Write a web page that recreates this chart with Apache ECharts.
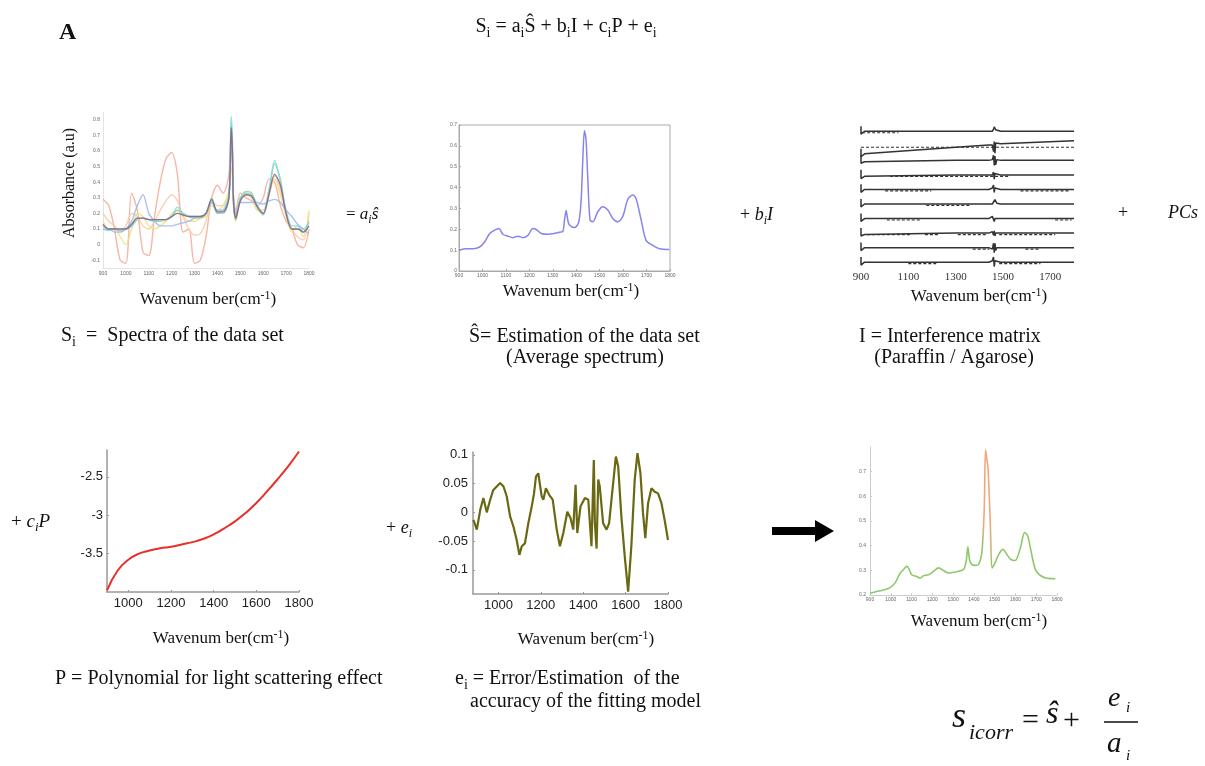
<!DOCTYPE html>
<html>
<head>
<meta charset="utf-8">
<script src="https://cdn.jsdelivr.net/npm/echarts@6/dist/echarts.min.js"></script>
<style>
  html, body { margin: 0; padding: 0; background: #fff; }
  #chart { width: 1205px; height: 766px; }
</style>
</head>
<body>
<div id="chart"></div>
<script>
// ============================================
// Data
// ============================================

// Panel 1: raw spectra of the data set
const P1_WN = [900, 925, 950, 975, 1000, 1025, 1050, 1075, 1100, 1125, 1150, 1175, 1200, 1225, 1250, 1275, 1300, 1325, 1350, 1375,
               1400, 1425, 1450, 1460, 1465, 1470, 1480, 1500, 1525, 1550, 1575, 1600, 1625, 1650, 1675, 1700, 1725, 1750, 1775, 1800];
const P1_SALMON = [0.29, 0.25, 0.1, -0.1, -0.12, 0.33, 0.22, -0.05, -0.07, 0.18, 0.4, 0.55, 0.59, 0.45, 0.08, 0.1, -0.12, -0.1, 0.05, 0.3,
                   0.38, 0.33, 0.45, 0.72, 0.6, 0.3, 0.22, 0.33, 0.3, 0.28, 0.25, 0.3, 0.42, 0.4, 0.25, 0.15, 0.1, 0.0, -0.02, 0.1];
const P1_PEACH = [0.2, 0.15, 0.12, 0.08, 0.12, 0.2, 0.18, 0.12, 0.1, 0.15, 0.22, 0.28, 0.32, 0.28, 0.18, 0.1, 0.06, 0.07, 0.15, 0.28,
                  0.25, 0.25, 0.32, 0.6, 0.55, 0.3, 0.18, 0.3, 0.32, 0.3, 0.22, 0.22, 0.35, 0.44, 0.35, 0.2, 0.1, 0.05, 0.03, 0.2];
const P1_YELLOW = [0.15, 0.1, 0.1, 0.05, 0.0, 0.1, 0.2, 0.18, 0.12, 0.1, 0.12, 0.15, 0.2, 0.22, 0.18, 0.15, 0.15, 0.17, 0.18, 0.25,
                   0.22, 0.25, 0.35, 0.5, 0.45, 0.25, 0.15, 0.28, 0.33, 0.3, 0.22, 0.2, 0.32, 0.42, 0.32, 0.18, 0.08, 0.12, 0.05, 0.22];
const P1_BLUE = [0.1, 0.1, 0.08, 0.08, 0.1, 0.15, 0.25, 0.32, 0.2, 0.15, 0.12, 0.12, 0.12, 0.13, 0.14, 0.15, 0.17, 0.18, 0.2, 0.27,
                 0.22, 0.22, 0.3, 0.7, 0.6, 0.3, 0.2, 0.27, 0.27, 0.27, 0.27, 0.26, 0.28, 0.29, 0.27, 0.22, 0.18, 0.13, 0.1, 0.07];
const P1_GREEN = [0.12, 0.1, 0.1, 0.09, 0.1, 0.12, 0.16, 0.17, 0.16, 0.15, 0.15, 0.16, 0.18, 0.22, 0.2, 0.18, 0.17, 0.17, 0.2, 0.3,
                  0.2, 0.2, 0.3, 0.78, 0.65, 0.28, 0.16, 0.29, 0.34, 0.33, 0.24, 0.19, 0.33, 0.52, 0.42, 0.2, 0.1, 0.1, 0.1, 0.14];
const P1_CYAN = [0.1, 0.09, 0.1, 0.1, 0.1, 0.12, 0.17, 0.17, 0.16, 0.15, 0.16, 0.16, 0.18, 0.24, 0.2, 0.18, 0.18, 0.18, 0.2, 0.28,
                 0.2, 0.22, 0.32, 0.82, 0.7, 0.3, 0.18, 0.3, 0.33, 0.32, 0.25, 0.2, 0.35, 0.54, 0.4, 0.22, 0.12, 0.12, 0.08, 0.15];
const P1_DARK = [0.13, 0.1, 0.1, 0.1, 0.1, 0.13, 0.17, 0.17, 0.16, 0.16, 0.16, 0.16, 0.18, 0.2, 0.19, 0.18, 0.18, 0.18, 0.2, 0.29,
                 0.21, 0.21, 0.3, 0.75, 0.62, 0.28, 0.17, 0.28, 0.32, 0.31, 0.24, 0.2, 0.32, 0.45, 0.38, 0.2, 0.1, 0.1, 0.08, 0.12];
const P1_YTICKS = [-0.1, 0, 0.1, 0.2, 0.3, 0.4, 0.5, 0.6, 0.7, 0.8];
const P1_XTICKS = [900, 1000, 1100, 1200, 1300, 1400, 1500, 1600, 1700, 1800];

// Panel 2: average spectrum
const P2_WN = [900, 931, 960, 988, 1009, 1031, 1052, 1070, 1087, 1109, 1130, 1151, 1173, 1194, 1215, 1229, 1251, 1279, 1307, 1329,
               1343, 1350, 1357, 1364, 1371, 1393, 1411, 1421, 1428, 1435, 1442, 1449, 1459, 1471, 1492, 1513, 1535, 1556, 1577, 1598,
               1620, 1641, 1655, 1677, 1698, 1726, 1755, 1797];
const P2_ABS = [0.1, 0.107, 0.107, 0.115, 0.139, 0.18, 0.196, 0.204, 0.176, 0.167, 0.16, 0.167, 0.16, 0.171, 0.204, 0.199, 0.18, 0.176, 0.18, 0.186,
                0.19, 0.244, 0.29, 0.244, 0.22, 0.208, 0.236, 0.34, 0.532, 0.673, 0.628, 0.452, 0.244, 0.236, 0.284, 0.308, 0.292, 0.252, 0.236, 0.26,
                0.343, 0.364, 0.348, 0.244, 0.147, 0.123, 0.107, 0.103];
const P2_YTICKS = [0, 0.1, 0.2, 0.3, 0.4, 0.5, 0.6, 0.7];

// Panel 3: interference matrix (10 stacked traces)
const P3_WN = [900, 900, 915, 1300, 1440, 1455, 1460, 1463, 1466, 1469, 1474, 1490, 1800];
const P3_TRACES = [
    [0.35, -0.2, 0, 0, 0, 0, 0.15, 0.3, 0.25, 0.1, 0, 0, 0],
    [-0.2, -0.75, -0.55, -0.1, 0.05, 0.05, -0.4, 0.3, -0.5, 0.2, 0.12, 0.15, 0.35],
    [0.35, -0.2, -0.1, 0, 0, 0.05, 0.35, -0.35, 0.3, -0.3, 0.05, 0, 0],
    [0.35, -0.25, -0.1, 0, 0, 0, 0.2, -0.3, 0.1, 0, 0, 0, 0],
    [0.35, -0.2, 0, 0, 0, 0.1, 0.3, -0.2, 0.1, 0, 0, 0, 0],
    [0.35, -0.2, 0, 0, 0, 0, 0.05, 0.1, 0.3, 0.25, 0.05, 0, 0],
    [0.35, -0.2, 0, 0, 0, 0.15, 0.25, -0.2, 0, -0.1, 0, 0, 0],
    [0.35, -0.2, -0.1, 0, 0, 0.1, -0.15, 0.15, -0.2, 0, 0, 0, 0],
    [0.35, -0.2, 0, 0, 0, -0.1, 0.3, -0.35, 0.3, -0.2, 0, 0, 0],
    [0.35, -0.2, 0, 0, 0, 0.1, 0.35, -0.3, 0.1, 0, 0, 0, 0]
];
const P3_DASHES = [
    [[905, 1058]],
    [[900, 1800]],
    [],
    [[1023, 1525]],
    [[1002, 1197], [1574, 1777]],
    [[1176, 1358]],
    [[1009, 1155], [1720, 1790]],
    [[925, 1107], [1170, 1232], [1309, 1428], [1484, 1721]],
    [[1372, 1442], [1595, 1651]],
    [[1100, 1218], [1484, 1658]]
];
const P3_XTICKS = [900, 1100, 1300, 1500, 1700];

// Panel 4: polynomial for light scattering
const P4_WN = [900, 950, 1000, 1050, 1100, 1150, 1200, 1250, 1300, 1350, 1400, 1450, 1500, 1550, 1600, 1650, 1700, 1750, 1800];
const P4_POLY = [-3.98, -3.72, -3.58, -3.5, -3.46, -3.43, -3.41, -3.38, -3.35, -3.31, -3.25, -3.17, -3.08, -2.97, -2.84, -2.69, -2.53, -2.36, -2.17];
const P4_YTICKS = [-3.5, -3, -2.5];
const P4_XTICKS = [1000, 1200, 1400, 1600, 1800];

// Panel 5: residual error
const P5_WN = [882, 898, 914, 929, 945, 961, 976, 992, 1008, 1024, 1039, 1055, 1071, 1086, 1099, 1110, 1125, 1141, 1157, 1168,
               1177, 1188, 1204, 1212, 1224, 1240, 1256, 1275, 1290, 1306, 1325, 1340, 1353, 1364, 1372, 1387, 1408, 1424, 1439, 1450,
               1455, 1463, 1471, 1478, 1494, 1510, 1522, 1538, 1554, 1565, 1580, 1596, 1612, 1627, 1643, 1656, 1670, 1682, 1693, 1706,
               1722, 1737, 1753, 1769, 1784, 1800];
const P5_ERR = [-0.013, -0.03, 0.004, 0.025, 0.0, 0.022, 0.039, 0.045, 0.051, 0.045, 0.028, -0.007, -0.025, -0.048, -0.074, -0.059, -0.054, -0.019, 0.01, 0.033,
                0.062, 0.068, 0.028, 0.022, 0.042, 0.03, 0.022, -0.03, -0.059, -0.036, 0.001, -0.01, -0.03, 0.048, -0.036, 0.01, 0.025, 0.022, -0.059, 0.091,
                -0.019, -0.063, 0.057, 0.045, -0.019, -0.03, -0.019, 0.039, 0.097, 0.08, -0.007, -0.077, -0.138, -0.059, 0.057, 0.103, 0.068, -0.001, -0.045, 0.016,
                0.042, 0.036, 0.033, 0.016, -0.013, -0.048];
const P5_YTICKS = [-0.1, -0.05, 0, 0.05, 0.1];
const P5_XTICKS = [1000, 1200, 1400, 1600, 1800];

// Panel 6: corrected spectrum
const P6_WN = [900, 932, 964, 996, 1020, 1045, 1061, 1077, 1085, 1101, 1125, 1141, 1157, 1181, 1205, 1230, 1254, 1278, 1302, 1326,
               1350, 1363, 1371, 1379, 1390, 1406, 1422, 1439, 1450, 1456, 1463, 1469, 1479, 1487, 1498, 1519, 1540, 1559, 1578, 1599,
               1624, 1644, 1659, 1675, 1696, 1720, 1752, 1792];
const P6_ABS = [0.207, 0.214, 0.22, 0.23, 0.248, 0.289, 0.303, 0.316, 0.31, 0.282, 0.275, 0.268, 0.278, 0.282, 0.296, 0.31, 0.299, 0.289, 0.292, 0.296,
                0.303, 0.337, 0.395, 0.344, 0.323, 0.32, 0.323, 0.378, 0.556, 0.789, 0.748, 0.7, 0.488, 0.31, 0.323, 0.364, 0.385, 0.364, 0.344, 0.34,
                0.392, 0.453, 0.44, 0.378, 0.303, 0.279, 0.268, 0.266];
const P6_YTICKS = [0.2, 0.3, 0.4, 0.5, 0.6, 0.7];

// ============================================
// Helpers
// ============================================
const SERIF = '"Liberation Serif", "Times New Roman", serif';
const SANS = '"Liberation Sans", Arial, sans-serif';

const zip = (xs, ys) => xs.map((x, i) => [x, ys[i]]);
const plain = (v) => String(v);   // no thousands separators

function valueAxis(gridIndex, min, max, ticks, o) {
    return {
        type: 'value', gridIndex, min, max,
        show: o.show !== false,
        splitLine: { show: false },
        axisLine: { show: !!o.line, onZero: false, lineStyle: { color: o.lineColor || '#999', width: o.lineWidth || 1 } },
        axisTick: { show: !!o.tick, inside: true, length: o.tickLen || 2, customValues: ticks, lineStyle: { color: o.lineColor || '#999' } },
        axisLabel: {
            customValues: ticks, fontSize: o.fs, color: o.color || '#666', fontFamily: o.ff || SANS,
            margin: o.margin, formatter: plain
        }
    };
}

function richSet(fs) {
    const sub = Math.round(fs * 0.68);
    return {
        n: { fontSize: fs, fontFamily: SERIF, fill: '#111' },
        i: { fontSize: fs, fontFamily: SERIF, fontStyle: 'italic', fill: '#111' },
        s: { fontSize: sub, fontFamily: SERIF, fill: '#111', padding: [Math.round(fs * 0.6), 0, 0, 0] },
        si: { fontSize: sub, fontFamily: SERIF, fontStyle: 'italic', fill: '#111', padding: [Math.round(fs * 0.6), 0, 0, 0] },
        p: { fontSize: sub, fontFamily: SERIF, fill: '#111', padding: [0, 0, Math.round(fs * 0.55), 0] }
    };
}

function txt(x, y, text, fs, align, extra) {
    return {
        type: 'text', x, y, silent: true,
        style: Object.assign({
            text, rich: richSet(fs), fontSize: fs, fontFamily: SERIF, fill: '#111',
            textAlign: align || 'left', textVerticalAlign: 'middle'
        }, extra || {})
    };
}

// single italic glyph group for the bottom formula
function ital(x, y, text, fs) {
    return txt(x, y, '{i|' + text + '}', fs, 'left', {
        rich: { i: { fontSize: fs, fontFamily: SERIF, fontStyle: 'italic', fill: '#111' } }
    });
}

const WAVE = '{n|Wavenum ber(cm}{p|-1}{n|)}';
const BODY = 20;

// ============================================
// Series
// ============================================
const series = [];

// Panel 1 spectra
const P1_LINES = [
    [P1_SALMON, '#f4a999'], [P1_PEACH, '#f7c9a2'], [P1_YELLOW, '#efe07c'], [P1_BLUE, '#98b8f2'],
    [P1_GREEN, '#93d593'], [P1_CYAN, '#7fdbe6'], [P1_DARK, '#8a5a86']
];
P1_LINES.forEach(([vals, color]) => {
    series.push({
        type: 'line', xAxisIndex: 0, yAxisIndex: 0, data: zip(P1_WN, vals),
        showSymbol: false, smooth: 0.3, lineStyle: { color, width: 1.4, opacity: 0.85 }
    });
});

// Panel 2 average spectrum
series.push({
    type: 'line', xAxisIndex: 1, yAxisIndex: 1, data: zip(P2_WN, P2_ABS),
    showSymbol: false, smooth: 0.3, lineStyle: { color: '#8585ee', width: 1.5 }
});

// Panel 3 interference traces
P3_TRACES.forEach((vals, k) => {
    const level = 9 - k;
    series.push({
        type: 'line', xAxisIndex: 2, yAxisIndex: 2,
        data: P3_WN.map((x, i) => [x, level + vals[i]]),
        showSymbol: false, lineStyle: { color: '#333', width: 1.5 }
    });
    const dash = [];
    P3_DASHES[k].forEach(([s, e]) => {
        dash.push([s, level - 0.1], [e, level - 0.1], [e, null]);
    });
    if (dash.length) {
        series.push({
            type: 'line', xAxisIndex: 2, yAxisIndex: 2, data: dash, connectNulls: false,
            showSymbol: false, lineStyle: { color: '#333', width: 1.2, type: [3, 2] }
        });
    }
});

// Panel 4 polynomial
series.push({
    type: 'line', xAxisIndex: 3, yAxisIndex: 3, data: zip(P4_WN, P4_POLY),
    showSymbol: false, smooth: true, lineStyle: { color: '#e8302a', width: 2 }
});

// Panel 5 error
series.push({
    type: 'line', xAxisIndex: 4, yAxisIndex: 4, data: zip(P5_WN, P5_ERR),
    showSymbol: false, lineStyle: { color: '#6a6812', width: 2.2 }
});

// Panel 6 corrected spectrum
const P6_INDEX = series.length;
series.push({
    type: 'line', xAxisIndex: 5, yAxisIndex: 5, data: zip(P6_WN, P6_ABS),
    showSymbol: false, smooth: 0.3, lineStyle: { width: 1.6 }
});

// ============================================
// Text & decorations
// ============================================
const graphic = [
    txt(59, 33, 'A', 24, 'left', { fontWeight: 'bold' }),
    txt(566, 27, '{n|S}{s|i}{n| = a}{s|i}{n|Ŝ + b}{s|i}{n|I + c}{s|i}{n|P + e}{s|i}', 20, 'center'),

    // panel 1
    Object.assign(txt(70, 183, 'Absorbance (a.u)', 16, 'center'), { rotation: Math.PI / 2 }),
    txt(208, 300, WAVE, 17, 'center'),
    txt(61, 336, '{n|S}{s|i}{n|  =  Spectra of the data set}', BODY),
    txt(346, 215, '{n|= }{i|a}{si|i}{i|ŝ}', 17),

    // panel 2
    txt(571, 292, WAVE, 17, 'center'),
    txt(469, 337, '{n|Ŝ= Estimation of the data set}', BODY),
    txt(585, 358, '(Average spectrum)', BODY, 'center'),
    txt(740, 215, '{n|+ }{i|b}{si|i}{i|I}', 18),

    // panel 3
    txt(979, 297, WAVE, 17, 'center'),
    txt(859, 337, 'I = Interference matrix', BODY),
    txt(954, 358, '(Paraffin / Agarose)', BODY, 'center'),
    txt(1118, 213, '+', 18),
    txt(1168, 213, '{i|PCs}', 18),

    // panel 4
    txt(11, 522, '{n|+ }{i|c}{si|i}{i|P}', 19),
    txt(221, 639, WAVE, 17, 'center'),
    txt(55, 679, 'P = Polynomial for light scattering effect', BODY),

    // panel 5
    txt(386, 528, '{n|+ }{i|e}{si|i}', 18),
    txt(586, 640, WAVE, 17, 'center'),
    txt(455, 679, '{n|e}{s|i}{n| = Error/Estimation  of the}', BODY),
    txt(470, 702, 'accuracy of the fitting model', BODY),

    // arrow
    {
        type: 'polygon', silent: true,
        shape: { points: [[772, 527], [815, 527], [815, 520], [834, 531], [815, 542], [815, 535], [772, 535]] },
        style: { fill: '#000' }
    },

    // panel 6
    txt(979, 622, WAVE, 17, 'center'),

    // corrected-spectrum formula
    ital(952, 718, 's', 36),
    ital(969, 733, 'icorr', 22),
    txt(1022, 721, '=', 30),
    ital(1046, 715, 'ŝ', 32),
    txt(1063, 721, '+', 30),
    ital(1108, 699, 'e', 28),
    ital(1126, 708, 'i', 15),
    { type: 'line', silent: true, shape: { x1: 1104, y1: 722, x2: 1138, y2: 722 }, style: { stroke: '#111', lineWidth: 1.5 } },
    ital(1107, 744, 'a', 29),
    ital(1126, 756, 'i', 15)
];

// ============================================
// Chart
// ============================================
const chart = echarts.init(document.getElementById('chart'));
chart.setOption({
    animation: false,
    backgroundColor: '#fff',
    grid: [
        { left: 103, width: 206, top: 112, height: 156 },
        { left: 459, width: 211, top: 125, height: 146, show: true, borderColor: '#aaa', borderWidth: 1 },
        { left: 861, width: 213, top: 124, height: 144 },
        { left: 107, width: 192, top: 450, height: 142 },
        { left: 473, width: 195, top: 452, height: 142 },
        { left: 870, width: 187, top: 447, height: 148 }
    ],
    xAxis: [
        valueAxis(0, 900, 1800, P1_XTICKS, { fs: 5, margin: 3, line: true, lineColor: '#e4e4e4' }),
        valueAxis(1, 900, 1800, P1_XTICKS, { fs: 5, margin: 2, line: true, tick: true, lineColor: '#aaa' }),
        valueAxis(2, 900, 1800, P3_XTICKS, { fs: 11, margin: 4, ff: SERIF, color: '#333' }),
        valueAxis(3, 900, 1800, P4_XTICKS, { fs: 13, margin: 5, color: '#222', line: true, tick: true, lineColor: '#999', lineWidth: 1.5 }),
        valueAxis(4, 880, 1800, P5_XTICKS, { fs: 13, margin: 5, color: '#222', line: true, tick: true, lineColor: '#999', lineWidth: 1.5 }),
        valueAxis(5, 900, 1800, P1_XTICKS, { fs: 5, margin: 2, line: true, tick: true, lineColor: '#ccc' })
    ],
    yAxis: [
        valueAxis(0, -0.15, 0.85, P1_YTICKS, { fs: 5, margin: 3, line: true, lineColor: '#e4e4e4' }),
        valueAxis(1, 0, 0.7, P2_YTICKS, { fs: 5, margin: 2, line: true, tick: true, lineColor: '#aaa' }),
        valueAxis(2, -0.4, 9.5, [], { fs: 5, show: false }),
        valueAxis(3, -4, -2.15, P4_YTICKS, { fs: 13, margin: 4, color: '#222', line: true, tick: true, lineColor: '#999', lineWidth: 1.5 }),
        valueAxis(4, -0.142, 0.105, P5_YTICKS, { fs: 13, margin: 5, color: '#222', line: true, tick: true, lineColor: '#999', lineWidth: 1.5 }),
        valueAxis(5, 0.2, 0.8, P6_YTICKS, { fs: 5, margin: 4, line: true, tick: true, lineColor: '#ccc' })
    ],
    visualMap: [{
        type: 'piecewise', show: false, seriesIndex: P6_INDEX, dimension: 0,
        pieces: [
            { lt: 1443, color: '#8fc86c' },
            { gte: 1443, lte: 1484, color: '#f3a57c' },
            { gt: 1484, color: '#8fc86c' }
        ]
    }],
    series,
    graphic
});
</script>
</body>
</html>
